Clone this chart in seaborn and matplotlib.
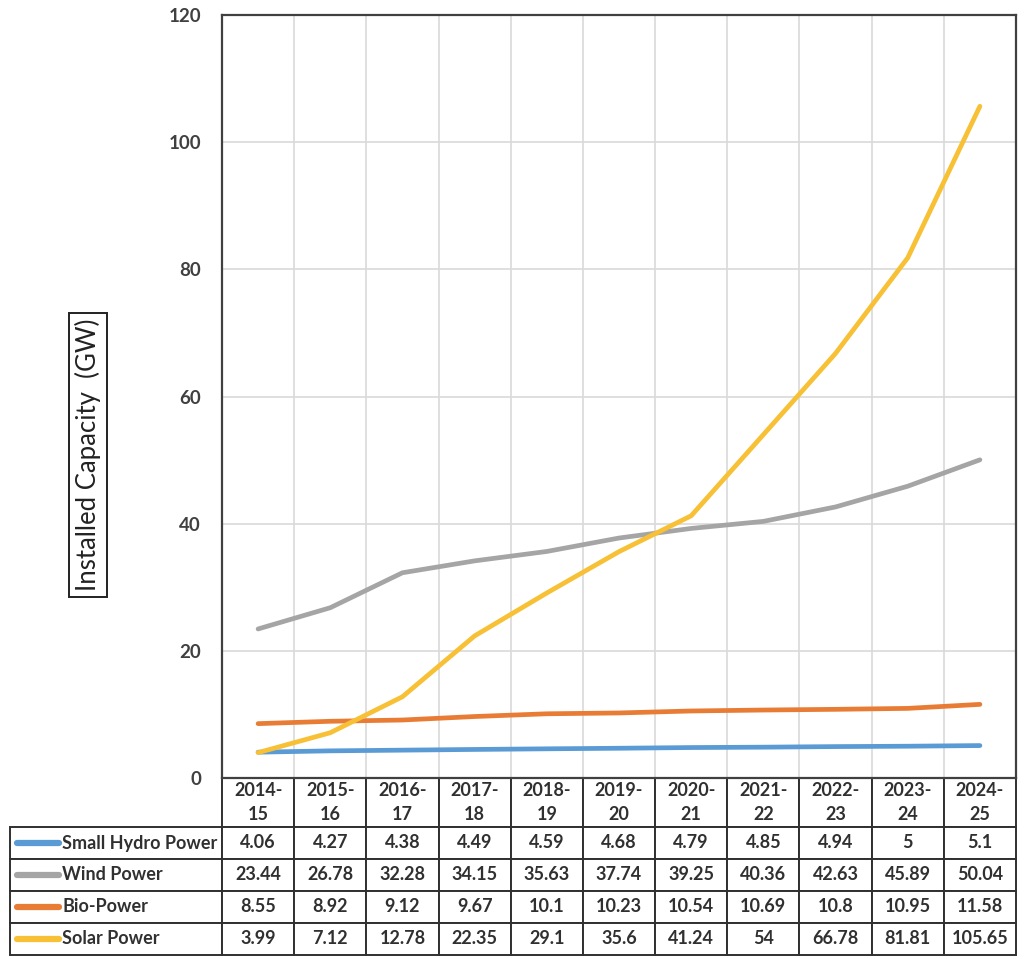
import numpy as np
import pandas as pd
import seaborn as sns
import matplotlib.pyplot as plt

years = ["2014-\n15", "2015-\n16", "2016-\n17", "2017-\n18", "2018-\n19", "2019-\n20",
         "2020-\n21", "2021-\n22", "2022-\n23", "2023-\n24", "2024-\n25"]
hydro = [4.06, 4.27, 4.38, 4.49, 4.59, 4.68, 4.79, 4.85, 4.94, 5, 5.1]
wind = [23.44, 26.78, 32.28, 34.15, 35.63, 37.74, 39.25, 40.36, 42.63, 45.89, 50.04]
bio = [8.55, 8.92, 9.12, 9.67, 10.1, 10.23, 10.54, 10.69, 10.8, 10.95, 11.58]
solar = [3.99, 7.12, 12.78, 22.35, 29.1, 35.6, 41.24, 54, 66.78, 81.81, 105.65]
series_names = ["Small Hydro Power", "Wind Power", "Bio-Power", "Solar Power"]
colors = ["#5B9BD5", "#A5A5A5", "#E97C35", "#F7C035"]

sns.set_style("white")
plt.rcParams["font.family"] = ["Lato", "DejaVu Sans"]

rows = []
for name, vals in zip(series_names, [hydro, wind, bio, solar]):
    for i, v in enumerate(vals):
        rows.append({"x": i, "value": v, "series": name})
df = pd.DataFrame(rows)

fig = plt.figure(figsize=(10.24, 9.59), dpi=100)
ax = fig.add_axes([222 / 1024, 1 - 778 / 959, 794 / 1024, 763 / 959])

sns.lineplot(data=df, x="x", y="value", hue="series", palette=colors,
             hue_order=series_names, linewidth=3.4, legend=False, ax=ax)
for ln in ax.get_lines():
    ln.set_solid_capstyle("round")
    ln.set_solid_joinstyle("round")

ax.set_xlim(-0.5, len(years) - 0.5)
ax.set_ylim(0, 120)
ax.set_yticks(range(0, 121, 20))
ax.set_xticks(np.arange(len(years) + 1) - 0.5, minor=True)
ax.set_xticks([])
ax.grid(True, which="major", axis="y", color="#D9D9D9", linewidth=1.2)
ax.grid(True, which="minor", axis="x", color="#D9D9D9", linewidth=1.2)
ax.tick_params(axis="y", length=0, pad=15, labelsize=13.5, labelcolor="#404040")
ax.tick_params(axis="x", which="both", length=0)
for lbl in ax.get_yticklabels():
    lbl.set_fontweight("bold")
for s in ax.spines.values():
    s.set_color("#404040")
    s.set_linewidth(1.6)
ax.set_xlabel("")
ax.set_ylabel("")

fig.text(88 / 1024, 1 - 455 / 959, "Installed Capacity  (GW)", rotation=90,
         ha="center", va="center", fontsize=18.5, color="#222222",
         bbox=dict(boxstyle="square,pad=0.22", fc="white", ec="#222222", lw=1.4))

# data table below the axes
ax_h = 763.0
ax_w = 794.0
left = (10 - 222) / ax_w
label_w = 212 / ax_w
col_w = 1.0 / len(years)
head_h = 49 / ax_h
row_h = 32 / ax_h
fs = 13

tbl = plt.matplotlib.table.Table(ax)
for j, yr in enumerate(years):
    c = tbl.add_cell(0, j + 1, width=col_w, height=head_h, text=yr, loc="center")
    c.set_edgecolor("#303030")
    c.set_linewidth(1.4)
    c.get_text().set_fontweight("bold")
    c.get_text().set_fontsize(fs)
    c.get_text().set_color("#303030")
    c.get_text().set_linespacing(1.45)
for i, (name, vals) in enumerate(zip(series_names, [hydro, wind, bio, solar])):
    c = tbl.add_cell(i + 1, 0, width=label_w, height=row_h, text=name, loc="left")
    c.set_edgecolor("#303030")
    c.set_linewidth(1.4)
    c.get_text().set_fontweight("bold")
    c.get_text().set_fontsize(fs)
    c.get_text().set_color("#303030")
    c.PAD = 52 / 212
    for j, v in enumerate(vals):
        c = tbl.add_cell(i + 1, j + 1, width=col_w, height=row_h, text=f"{v:g}", loc="center")
        c.set_edgecolor("#303030")
        c.set_linewidth(1.4)
        c.get_text().set_fontweight("bold")
        c.get_text().set_fontsize(fs)
        c.get_text().set_color("#303030")
tbl.auto_set_font_size(False)
tbl_height = head_h + 4 * row_h
tbl.set_clip_on(False)
tbl._bbox = [left, -tbl_height, 1 - left, tbl_height]
ax.add_table(tbl)

# legend keys inside the row label cells
for i, col in enumerate(colors):
    yc = -head_h - (i + 0.5) * row_h
    ax.plot([(17 - 222) / ax_w, (59 - 222) / ax_w], [yc, yc], transform=ax.transAxes,
            color=col, linewidth=4.5, solid_capstyle="round", clip_on=False)

fig.savefig("out.png", dpi=100)
